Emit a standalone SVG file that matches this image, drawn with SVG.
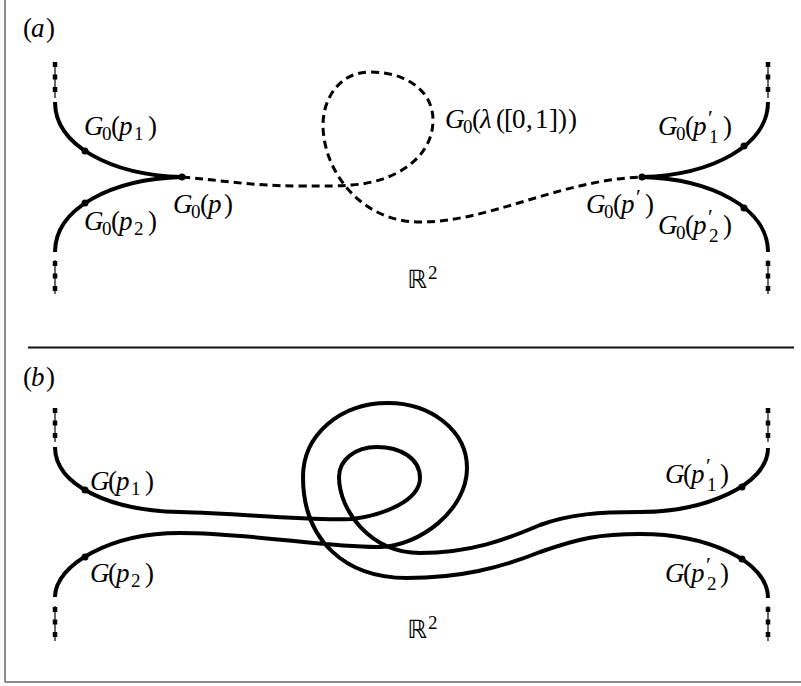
<svg xmlns="http://www.w3.org/2000/svg" width="801" height="686" viewBox="0 0 801 686">
<style>
  .frame{stroke:#666;stroke-width:1.5;fill:none}
  .sep{stroke:#111;stroke-width:2}
  .solid{fill:none;stroke:#000;stroke-width:4;stroke-linecap:butt}
  .dashed{fill:none;stroke:#000;stroke-width:3;stroke-dasharray:8 5}
  .stubthin{stroke:#000;stroke-width:1.2}
  .stubdash{stroke:#000;stroke-width:4.5;stroke-dasharray:5 7.5}
  .dot{fill:#000}
  .i{font-style:italic}
  .s{font-size:19px;font-style:normal}
  .pr{font-size:22px;font-style:normal}
  .bb{font-family:"DejaVu Sans",sans-serif;font-size:25px;font-style:normal}
</style>
<g id="frame">
  <line class="frame" x1="5" y1="0" x2="5" y2="682"/>
  <line class="frame" x1="5" y1="682" x2="801" y2="682"/>
  <line class="sep" x1="28" y1="347.5" x2="794" y2="347.5"/>
</g>
<g font-family="Liberation Serif, Times New Roman, DejaVu Serif, serif" font-size="27" fill="#000">
<g id="panel-a">
  <text y="37"><tspan x="23">(</tspan><tspan class="i" x="31">a</tspan><tspan x="46">)</tspan></text>
  <g id="stubs-a">
    <line class="stubthin" x1="55" y1="62" x2="55" y2="98"/>
    <line class="stubdash" x1="55" y1="62" x2="55" y2="98"/>
    <line class="stubthin" x1="55" y1="260" x2="55" y2="294"/>
    <line class="stubdash" x1="55" y1="261" x2="55" y2="294"/>
    <line class="stubthin" x1="768" y1="62" x2="768" y2="98"/>
    <line class="stubdash" x1="768" y1="62" x2="768" y2="98"/>
    <line class="stubthin" x1="768" y1="260" x2="768" y2="294"/>
    <line class="stubdash" x1="768" y1="261" x2="768" y2="294"/>
  </g>
  <g id="connectors-a">
    <path class="solid" d="M55,102 C55,145 110,175 182,177"/>
    <path class="solid" d="M55,252 C55,209 110,179 182,177"/>
    <path class="solid" d="M768,102 C768,145 713,175 642,177"/>
    <path class="solid" d="M768,252 C768,209 713,179 642,177"/>
    <path class="dashed" d="M182,177 C220,180 250,186 300,186 C330,186 340,186 352,185 C395,182 433,158 433,120 C433,90 405,72 370,72 C340,72 323,98 323,125 C323,170 360,222 420,222 C490,222 560,180 642,177"/>
  </g>
  <g id="node-p"><circle class="dot" cx="182" cy="177" r="3.5"/>
    <text><tspan class="i" x="173" y="213">G</tspan><tspan class="s" x="191" y="218">0</tspan><tspan x="200" y="213">(</tspan><tspan class="i" x="208" y="213">p</tspan><tspan x="224" y="213">)</tspan></text></g>
  <g id="node-p1"><circle class="dot" cx="85" cy="151" r="3.5"/>
    <text><tspan class="i" x="84" y="135">G</tspan><tspan class="s" x="102" y="140">0</tspan><tspan x="111" y="135">(</tspan><tspan class="i" x="119" y="135">p</tspan><tspan class="s" x="134" y="140">1</tspan><tspan x="148" y="135">)</tspan></text></g>
  <g id="node-p2"><circle class="dot" cx="85" cy="203" r="3.5"/>
    <text><tspan class="i" x="84" y="230">G</tspan><tspan class="s" x="102" y="235">0</tspan><tspan x="111" y="230">(</tspan><tspan class="i" x="119" y="230">p</tspan><tspan class="s" x="134" y="235">2</tspan><tspan x="148" y="230">)</tspan></text></g>
  <g id="node-pp"><circle class="dot" cx="642" cy="177" r="3.5"/>
    <text><tspan class="i" x="586" y="213">G</tspan><tspan class="s" x="604" y="218">0</tspan><tspan x="613" y="213">(</tspan><tspan class="i" x="621" y="213">p</tspan><tspan class="pr" x="636" y="204">′</tspan><tspan x="645" y="213">)</tspan></text></g>
  <g id="node-pp1"><circle class="dot" cx="744" cy="146" r="3.5"/>
    <text><tspan class="i" x="658" y="135">G</tspan><tspan class="s" x="676" y="140">0</tspan><tspan x="685" y="135">(</tspan><tspan class="i" x="693" y="135">p</tspan><tspan class="pr" x="708" y="125">′</tspan><tspan class="s" x="709" y="143">1</tspan><tspan x="723" y="135">)</tspan></text></g>
  <g id="node-pp2"><circle class="dot" cx="744" cy="208" r="3.5"/>
    <text><tspan class="i" x="658" y="234">G</tspan><tspan class="s" x="676" y="239">0</tspan><tspan x="685" y="234">(</tspan><tspan class="i" x="693" y="234">p</tspan><tspan class="pr" x="708" y="224">′</tspan><tspan class="s" x="709" y="242">2</tspan><tspan x="723" y="234">)</tspan></text></g>
  <g id="label-lambda">
    <text><tspan class="i" x="445" y="128">G</tspan><tspan class="s" x="463" y="133">0</tspan><tspan x="472" y="128">(</tspan><tspan class="i" x="480" y="128">λ</tspan><tspan x="496" y="128">(</tspan><tspan x="504" y="128">[</tspan><tspan x="512" y="128">0</tspan><tspan x="526" y="128">,</tspan><tspan x="535" y="128">1</tspan><tspan x="549" y="128">]</tspan><tspan x="558" y="128">)</tspan><tspan x="568" y="128">)</tspan></text></g>
  <g id="label-R2a"><text><tspan class="bb" x="407" y="288">ℝ</tspan><tspan class="s" x="428" y="279">2</tspan></text></g>
</g>
<g id="panel-b">
  <text y="386"><tspan x="23">(</tspan><tspan class="i" x="31">b</tspan><tspan x="46">)</tspan></text>
  <g id="stubs-b">
    <line class="stubthin" x1="55" y1="408" x2="55" y2="442"/>
    <line class="stubdash" x1="55" y1="408" x2="55" y2="442"/>
    <line class="stubthin" x1="55" y1="606" x2="55" y2="641"/>
    <line class="stubdash" x1="55" y1="607" x2="55" y2="641"/>
    <line class="stubthin" x1="768" y1="408" x2="768" y2="442"/>
    <line class="stubdash" x1="768" y1="408" x2="768" y2="442"/>
    <line class="stubthin" x1="768" y1="606" x2="768" y2="641"/>
    <line class="stubdash" x1="768" y1="607" x2="768" y2="641"/>
  </g>
  <g id="connectors-b">
    <path class="solid" d="M55,447 C55,485 110,511 180,512 C240,513 300,521 352,519 C385,515 420,500 420,478 C420,458 400,447 377,447 C355,447 339,460 339,477 C339,510 370,553 420,553 C470,553 505,540 540,525 C570,514 600,512 640,512 C705,512 768,485 768,448"/>
    <path class="solid" d="M55,597 C55,565 110,533 180,533 C250,533 330,548 380,547 C420,546 467,510 467,468 C467,430 430,403 388,403 C340,403 303,435 303,477 C303,540 345,578 407,578 C460,578 500,568 540,552 C580,538 600,534 640,534 C705,534 768,560 768,598"/>
  </g>
  <g id="node-bp1"><circle class="dot" cx="85" cy="490" r="3.5"/>
    <text><tspan class="i" x="90" y="490">G</tspan><tspan x="108" y="490">(</tspan><tspan class="i" x="116" y="490">p</tspan><tspan class="s" x="131" y="495">1</tspan><tspan x="145" y="490">)</tspan></text></g>
  <g id="node-bp2"><circle class="dot" cx="85" cy="557" r="3.5"/>
    <text><tspan class="i" x="90" y="582">G</tspan><tspan x="108" y="582">(</tspan><tspan class="i" x="116" y="582">p</tspan><tspan class="s" x="131" y="587">2</tspan><tspan x="145" y="582">)</tspan></text></g>
  <g id="node-bpp1"><circle class="dot" cx="742" cy="487" r="3.5"/>
    <text><tspan class="i" x="665" y="483">G</tspan><tspan x="683" y="483">(</tspan><tspan class="i" x="691" y="483">p</tspan><tspan class="pr" x="706" y="473">′</tspan><tspan class="s" x="707" y="491">1</tspan><tspan x="720" y="483">)</tspan></text></g>
  <g id="node-bpp2"><circle class="dot" cx="742" cy="559" r="3.5"/>
    <text><tspan class="i" x="665" y="582">G</tspan><tspan x="683" y="582">(</tspan><tspan class="i" x="691" y="582">p</tspan><tspan class="pr" x="706" y="572">′</tspan><tspan class="s" x="707" y="590">2</tspan><tspan x="720" y="582">)</tspan></text></g>
  <g id="label-R2b"><text><tspan class="bb" x="407" y="638">ℝ</tspan><tspan class="s" x="428" y="629">2</tspan></text></g>
</g>
</g>
</svg>
